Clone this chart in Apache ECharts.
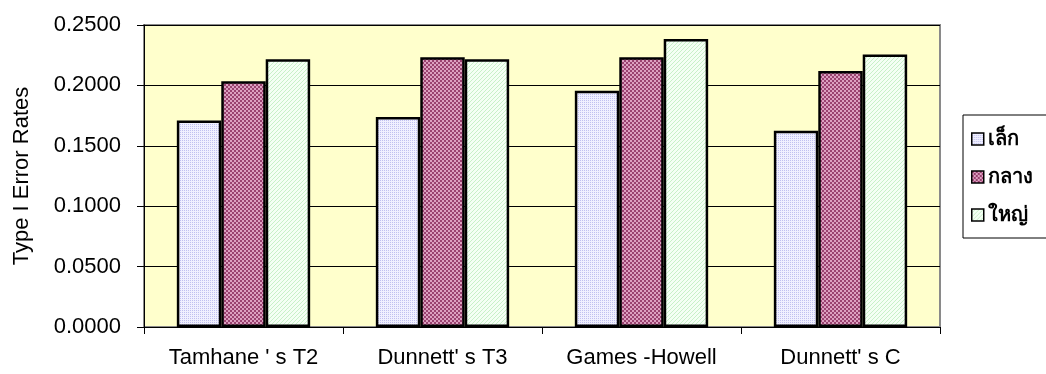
<!DOCTYPE html>
<html>
<head>
<meta charset="utf-8">
<script src="https://cdn.jsdelivr.net/npm/echarts@6/dist/echarts.min.js"></script>
<style>
  html, body { margin: 0; padding: 0; background: #ffffff; }
  #chart { width: 1046px; height: 374px; }
</style>
</head>
<body>
<div id="chart"></div>
<script>
// Post-hoc test methods on the x axis
const categories = ["Tamhane ' s T2", "Dunnett' s T3", "Games -Howell", "Dunnett' s C"];
// Sample-size groups (small / medium / large)
const seriesNames = ['เล็ก', 'กลาง', 'ใหญ่'];
const smallValues  = [0.1710, 0.1738, 0.1955, 0.1625];
const mediumValues = [0.2035, 0.2233, 0.2233, 0.2120];
const largeValues  = [0.2217, 0.2217, 0.2384, 0.2255];
const yTicks = [0, 0.05, 0.10, 0.15, 0.20, 0.25];

// Small tiled fills imitating classic spreadsheet pattern fills
function makePattern(kind) {
  const c = document.createElement('canvas');
  c.width = 4; c.height = 4;
  const g = c.getContext('2d');
  if (kind === 'dots') {
    g.fillStyle = '#f0f0ff'; g.fillRect(0, 0, 4, 4);
    g.fillStyle = '#c0c0f0';
    g.fillRect(0, 0, 1, 1); g.fillRect(2, 2, 1, 1);
    g.fillRect(2, 0, 1, 1); g.fillRect(0, 2, 1, 1);
  } else if (kind === 'check') {
    g.fillStyle = '#dca0c0'; g.fillRect(0, 0, 4, 4);
    g.fillStyle = '#9a4270';
    g.fillRect(0, 0, 2, 2); g.fillRect(2, 2, 2, 2);
  } else {
    g.fillStyle = '#f4fff4'; g.fillRect(0, 0, 4, 4);
    g.fillStyle = '#c8f0c8';
    for (let i = 0; i < 4; i++) g.fillRect(i, 3 - i, 1, 1);
  }
  return { image: c, repeat: 'repeat' };
}
const fills = [makePattern('dots'), makePattern('check'), makePattern('hatch')];
const valueSets = [smallValues, mediumValues, largeValues];

const chart = echarts.init(document.getElementById('chart'), null, { renderer: 'canvas' });
const font = 'Liberation Sans, Arial, sans-serif';

chart.setOption({
  backgroundColor: '#ffffff',
  animation: false,
  grid: {
    left: 144, right: 106, top: 25, bottom: 47,
    show: true, backgroundColor: '#ffffcc',
    borderColor: '#8a8a8a', borderWidth: 2
  },
  legend: {
    left: 963, top: 115,
    orient: 'vertical',
    itemWidth: 12, itemHeight: 12, itemGap: 14,
    padding: [12, 30, 11, 8],
    borderColor: '#000000', borderWidth: 1,
    backgroundColor: '#ffffff',
    icon: 'rect',
    itemStyle: { borderColor: '#000000', borderWidth: 1.5 },
    textStyle: { fontFamily: font, fontSize: 20, fontWeight: 'bold', lineHeight: 24, color: '#000000', padding: [0, 0, 0, -1] },
    data: seriesNames
  },
  xAxis: {
    type: 'category',
    data: categories,
    axisLine: { lineStyle: { color: '#000000', width: 1 } },
    axisTick: { show: true, length: 7, lineStyle: { color: '#000000' } },
    axisLabel: { fontFamily: font, fontSize: 22, color: '#000000', margin: 20 }
  },
  yAxis: {
    type: 'value',
    min: yTicks[0], max: yTicks[yTicks.length - 1], interval: 0.05,
    name: 'Type I Error Rates',
    nameLocation: 'middle',
    nameGap: 111,
    nameRotate: 90,
    nameTextStyle: { fontFamily: font, fontSize: 22, color: '#000000' },
    axisLine: { show: true, lineStyle: { color: '#000000', width: 1 } },
    axisTick: { show: true, length: 7, inside: false, lineStyle: { color: '#000000' } },
    splitLine: { show: true, lineStyle: { color: '#000000', width: 1 } },
    axisLabel: {
      fontFamily: font, fontSize: 22, color: '#000000', margin: 23,
      formatter: v => v.toFixed(4)
    }
  },
  series: seriesNames.map((name, i) => ({
    name: name,
    type: 'bar',
    data: valueSets[i],
    barGap: '0%',
    barCategoryGap: '33%',
    itemStyle: { color: fills[i], borderColor: '#000000', borderWidth: 2.5 }
  }))
});
</script>
</body>
</html>
